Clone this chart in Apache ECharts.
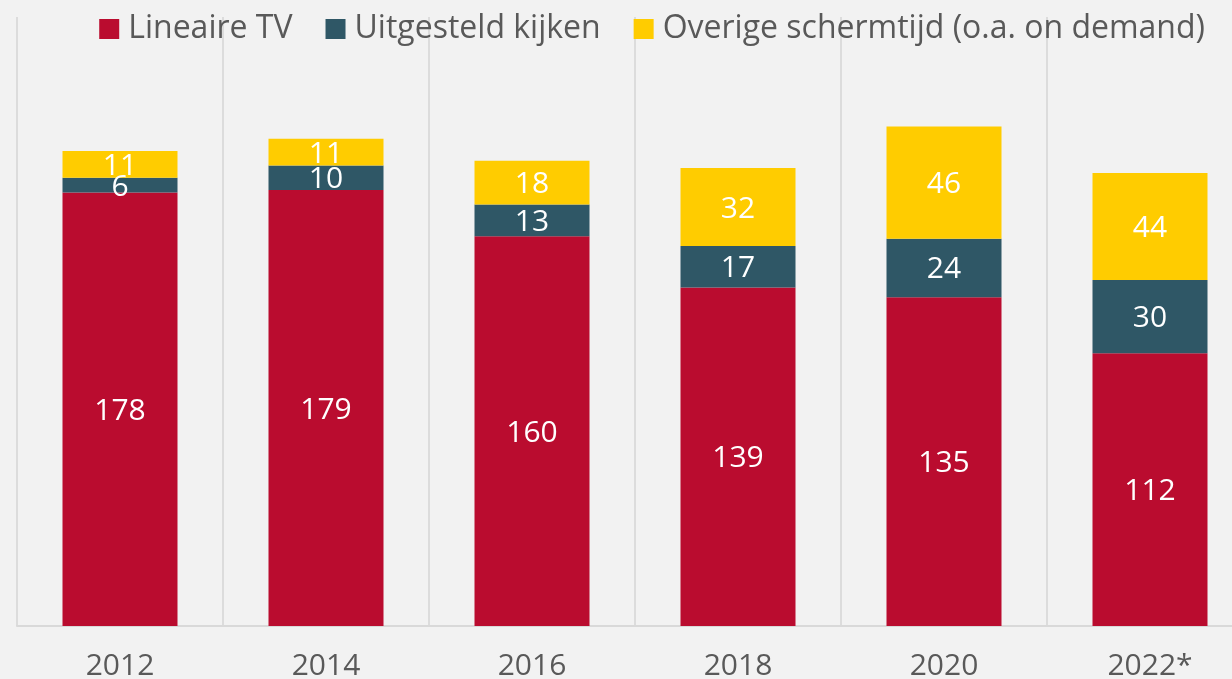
<!DOCTYPE html>
<html>
<head>
<meta charset="utf-8">
<script src="https://cdn.jsdelivr.net/npm/echarts@6/dist/echarts.min.js"></script>
<style>
  html, body { margin: 0; padding: 0; background: #f2f2f2; overflow: hidden; }
  /* iets breder dan het venster: de laatste categorie loopt door over de rand */
  #chart { width: 1253px; height: 679px; }
</style>
</head>
<body>
<div id="chart"></div>
<script>
// jaren en minuten per dag
const years = ['2012', '2014', '2016', '2018', '2020', '2022*']
const lineaireTv = [178, 179, 160, 139, 135, 112]
const uitgesteld = [6, 10, 13, 17, 24, 30]
const overig = [11, 11, 18, 32, 46, 44]

const font = 'Open Sans'

function barSeries (name, data, color) {
  return {
    name: name,
    type: 'bar',
    stack: 'totaal',
    barWidth: 115,
    itemStyle: { color: color },
    label: {
      show: true,
      position: 'inside',
      offset: [0, 2],
      color: '#ffffff',
      fontFamily: font,
      fontSize: 30
    },
    data: data
  }
}

const chart = echarts.init(document.getElementById('chart'))
chart.setOption({
  backgroundColor: '#f2f2f2',
  animation: false,
  legend: {
    top: 13,
    right: 48,
    padding: 0,
    icon: 'rect',
    itemWidth: 20,
    itemHeight: 20,
    itemGap: 33,
    textStyle: {
      color: '#595959',
      fontFamily: font,
      fontSize: 32,
      padding: [0, 0, 0, 4]
    },
    data: ['Lineaire TV', 'Uitgesteld kijken', 'Overige schermtijd (o.a. on demand)']
  },
  grid: {
    left: 17,
    right: 0,
    top: 17,
    bottom: 53,
    containLabel: false,
    outerBoundsMode: 'none'
  },
  xAxis: {
    type: 'category',
    data: years,
    axisLine: { lineStyle: { color: '#d9d9d9', width: 2 } },
    axisTick: { show: false },
    splitLine: { show: true, lineStyle: { color: '#dcdcdc', width: 2 } },
    axisLabel: {
      color: '#595959',
      fontFamily: font,
      fontSize: 30,
      margin: 25
    }
  },
  yAxis: {
    type: 'value',
    min: 0,
    max: 250,
    show: false,
    splitLine: { show: false }
  },
  series: [
    barSeries('Lineaire TV', lineaireTv, '#ba0c2f'),
    barSeries('Uitgesteld kijken', uitgesteld, '#2f5766'),
    barSeries('Overige schermtijd (o.a. on demand)', overig, '#ffcc00')
  ]
})
</script>
</body>
</html>
